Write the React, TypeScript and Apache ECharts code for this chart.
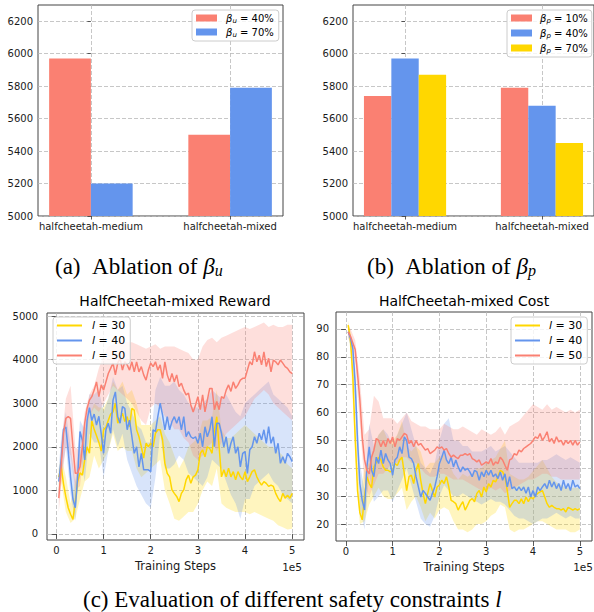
import React, { useEffect, useRef } from 'react';
import * as echarts from 'echarts';

// ---------------- data ----------------
const barCategories = ['halfcheetah-medium', 'halfcheetah-mixed'];
const betaU40 = [5970, 5500];
const betaU70 = [5200, 5790];
const betaP10 = [5740, 5790];
const betaP40 = [5970, 5680];
const betaP70 = [5870, 5450];
const barTicks = [5000, 5200, 5400, 5600, 5800, 6000, 6200];
const rewardTicks = [0, 1000, 2000, 3000, 4000, 5000];
const costTicks = [20, 30, 40, 50, 60, 70, 80, 90];
const stepTicks = [0, 1, 2, 3, 4, 5];

// training steps (x 1e5)
const meanSteps = Array.from({ length: 100 }, (_, i) => +((i + 1) * 0.05).toFixed(2));
const bandSteps = [0.05, ...Array.from({ length: 50 }, (_, i) => +((i + 1) * 0.1).toFixed(1))];

// Reward means
const reward30 = [
  1300, 1550, 1150, 850, 600, 450, 330, 750, 1200, 1400,
  1350, 1700, 2000, 1850, 2600, 2400, 2250, 2100, 1900, 2390,
  2450, 2610, 2750, 2800, 3000, 2540, 2650, 2770, 2580, 2690,
  2460, 2880, 2840, 2390, 2230, 2000, 1740, 2080, 2000, 2080,
  2000, 2310, 2390, 2390, 2160, 1620, 1390, 1310, 1010, 930,
  860, 740, 930, 1010, 1240, 1350, 1160, 1310, 1350, 1470,
  1850, 1930, 1770, 2000, 1960, 1850, 2390, 2690, 2000, 1310,
  1470, 1310, 1510, 1310, 1430, 1240, 1430, 1310, 1240, 1430,
  1200, 1310, 1430, 1470, 1310, 1200, 1120, 1200, 1160, 1090,
  1120, 1090, 930, 820, 740, 930, 820, 890, 820, 930,
];
const reward40 = [
  1200, 1700, 2400, 2450, 1900, 1300, 800, 600, 1300, 2350,
  2150, 1700, 2600, 2900, 2600, 2750, 2500, 2700, 2300, 1850,
  2390, 2540, 2310, 3070, 3260, 2690, 2540, 2920, 2880, 2390,
  2610, 2230, 1850, 2000, 1540, 1850, 1470, 1470, 1470, 1430,
  2390, 2350, 2690, 3000, 2730, 2390, 2690, 2390, 2580, 2690,
  2540, 2690, 2390, 2690, 2230, 2350, 2230, 2190, 2230, 2080,
  2310, 2000, 2460, 2230, 2390, 2690, 2000, 2540, 2540, 2310,
  2000, 2230, 1850, 2080, 2230, 1850, 2000, 1540, 1850, 1890,
  1390, 1930, 2000, 2230, 2080, 2310, 2160, 2390, 2080, 2460,
  2080, 2230, 1850, 2080, 1620, 1770, 1620, 1850, 1770, 1660,
];
const reward50 = [
  820, 1540, 2300, 2650, 2690, 2650, 2000, 1390, 1400, 1540,
  2000, 2540, 2880, 3070, 3150, 3300, 3490, 3150, 3420, 3300,
  3490, 3680, 3800, 3920, 3650, 3920, 4030, 3760, 3950, 3880,
  3760, 3950, 3720, 3950, 3720, 3840, 3650, 3530, 3760, 3920,
  3840, 3950, 3760, 3880, 3570, 3950, 3650, 3490, 3680, 3490,
  3650, 3380, 3460, 3300, 3190, 3230, 2960, 2800, 2960, 3150,
  2850, 3190, 2800, 3070, 3340, 3340, 2850, 3040, 2850, 3150,
  3110, 3300, 3420, 3270, 3490, 3340, 3420, 3530, 3570, 3570,
  3760, 3950, 3880, 4180, 3950, 4100, 3880, 4180, 3840, 4030,
  3720, 3990, 3950, 3880, 3990, 3920, 3840, 3800, 3720, 3680,
];
// Reward bands
const reward30Hi = [1500, 1800, 1300, 700, 1200, 1800, 2400, 2700, 3000, 2900, 2900, 3100, 3500, 3300, 3500, 3200, 3300, 3000, 2500, 2500, 2500, 2600, 2700, 2300, 2100, 1800, 1500, 1700, 2000, 2100, 2200, 2600, 2600, 2700, 3300, 2400, 2200, 2200, 2300, 2400, 2500, 2400, 2300, 2200, 2100, 2000, 2000, 1900, 1800, 1600, 1500];
const reward30Lo = [1000, 1200, 500, 250, 350, 800, 1200, 1300, 1800, 1500, 1700, 1900, 2300, 1900, 2000, 1900, 1900, 1500, 1300, 1400, 1500, 1600, 1700, 1000, 700, 350, 300, 400, 500, 500, 700, 1000, 1200, 1100, 1500, 700, 600, 550, 500, 500, 500, 450, 500, 450, 400, 350, 300, 200, 150, 100, 120];
const reward40Hi = [1500, 2200, 2800, 2000, 1200, 2600, 2400, 3200, 3200, 3300, 2800, 3100, 3600, 3300, 3400, 3000, 2800, 2500, 2400, 2100, 2100, 3300, 3600, 3400, 3400, 3500, 3300, 3200, 3000, 2900, 2900, 3000, 3100, 3300, 3200, 3100, 3200, 3000, 2800, 2700, 3000, 3100, 3200, 3300, 3400, 3500, 3200, 3100, 3000, 2900, 2700];
const reward40Lo = [900, 1300, 2000, 900, 300, 1800, 1200, 2300, 2100, 2100, 1300, 1900, 2400, 2000, 2300, 1700, 1400, 1100, 900, 700, 600, 1300, 2300, 1500, 1500, 1600, 1800, 1700, 1400, 1300, 1200, 1100, 1300, 1700, 1600, 1500, 1200, 900, 700, 350, 800, 800, 1100, 1200, 1300, 1400, 1200, 1100, 900, 800, 700];
const reward50Hi = [1000, 2000, 3100, 3400, 2000, 1900, 2800, 3200, 3400, 3800, 4100, 4300, 4350, 4400, 4400, 4400, 4400, 4350, 4300, 4250, 4300, 4350, 4250, 4300, 4300, 4300, 4250, 4200, 4150, 4000, 4000, 4300, 4450, 4500, 4400, 4500, 4550, 4600, 4650, 4700, 4750, 4700, 4750, 4800, 4850, 4750, 4800, 4750, 4750, 4800, 4800];
const reward50Lo = [500, 1100, 2000, 1800, 1000, 1100, 2100, 2700, 2900, 2800, 3000, 3200, 3400, 3300, 3200, 3100, 3000, 2800, 2600, 2500, 2900, 3000, 2900, 2700, 2600, 2400, 2400, 2200, 2100, 1800, 1700, 1800, 2000, 2100, 1900, 2100, 2300, 2400, 2500, 2600, 2700, 2900, 3100, 3200, 3300, 3200, 3000, 2900, 2800, 2700, 2600];

// Cost means
const cost30 = [
  91.4, 86, 73, 51, 32, 24, 21.5, 30, 37, 34.6,
  33, 40.5, 42, 44, 43, 40.5, 39.3, 39.3, 38.7, 39.3,
  41.7, 41, 43, 44, 38, 32, 37, 37.5, 34.5, 39.3,
  41.7, 35.7, 31, 27.3, 31, 34.5, 32, 29.7, 33.3, 34,
  35.7, 34.5, 37, 33.3, 28.5, 28, 27.3, 25, 26.7, 28,
  25, 26.7, 28.5, 29.1, 28, 31, 32, 29.7, 33.3, 31.5,
  34.5, 33.3, 35.7, 35.1, 37, 39.3, 38.7, 37, 32, 26,
  27.3, 28.5, 28.5, 27.3, 29, 27.3, 29.7, 28, 29.7, 29,
  30.3, 31, 31.5, 32, 29.7, 27.3, 26, 26.7, 26, 25.5,
  25.5, 25, 25.5, 24.3, 26, 25.5, 25, 25.5, 25, 25.5,
];
const cost40 = [
  89, 86.8, 83, 70.5, 50, 34.5, 28.5, 25, 40.5, 47.7,
  39.3, 37, 44, 41.7, 46.5, 41.7, 45.3, 43, 41.7, 37.5,
  43, 44, 47.7, 45.3, 51.3, 50, 44, 43.5, 41.7, 37,
  33.3, 29.7, 32, 31, 29.7, 28.5, 31, 33.3, 37, 41.7,
  44, 46.5, 43, 41.7, 44, 40.5, 43, 40.5, 38.7, 40.5,
  39.3, 40, 38.7, 37, 39.3, 38.7, 35.7, 38.7, 37, 39.3,
  37.5, 39.3, 37, 38, 36.3, 38.7, 35.7, 38, 33.3, 37,
  32.7, 33.3, 32, 33.3, 32, 33.3, 31, 33.3, 29.7, 32,
  29.7, 33.3, 32, 33.3, 34.5, 32.7, 35.7, 33.3, 35.1, 32.7,
  34.5, 32, 35.7, 32.7, 34.5, 32, 35.7, 33.3, 34, 32.7,
];
const cost50 = [
  89, 87.4, 85, 82.6, 74, 64.5, 51.3, 43, 39.3, 38,
  44, 46.5, 50.7, 50, 47.7, 50, 47.7, 50.7, 48.9, 51.3,
  47.7, 50.7, 50, 51.3, 52.5, 52, 48.9, 50, 47.7, 50,
  48.3, 48.9, 47.7, 46.5, 47.1, 45.3, 45.9, 46.5, 47.7, 47.1,
  47.7, 46.5, 47.1, 45.3, 44, 44.7, 44, 43.5, 44.7, 44.7,
  45.3, 44.7, 45.3, 43.5, 43, 42.3, 43, 41.1, 41.7, 42.3,
  41.7, 43.5, 41.1, 42.3, 41.7, 44, 43, 41.1, 39.3, 43,
  43.5, 45.3, 44.7, 46.5, 45.9, 47.1, 47.7, 48.3, 48.9, 50,
  51.3, 50.7, 52.5, 50, 51.3, 53.1, 49.5, 50.7, 48.9, 51.3,
  49.5, 50, 48.3, 50, 48.9, 50, 48.3, 50, 48.3, 49.5,
];
// Cost bands
const cost30Hi = [93, 89, 56, 30, 40, 42, 48, 52, 54, 50, 50, 52, 57, 48, 46, 48, 46, 40, 42, 42, 44, 45, 42, 38, 36, 38, 37, 38, 40, 40, 42, 43, 44, 47, 50, 38, 37, 36, 36, 37, 39, 41, 43, 40, 37, 35, 34, 33, 33, 33, 33];
const cost30Lo = [89, 82, 44, 20, 21, 27, 30, 33, 30, 29, 29, 31, 33, 25, 28, 30, 26, 21, 24, 22, 25, 26, 25, 21, 18, 18, 17, 18, 20, 20, 21, 23, 24, 27, 26, 18, 17, 18, 18, 19, 20, 21, 21, 20, 19, 18, 18, 18, 17, 17, 18];
const cost40Hi = [90, 88, 76, 42, 32, 56, 48, 52, 54, 52, 48, 52, 56, 60, 54, 48, 42, 40, 38, 42, 50, 56, 58, 50, 50, 48, 48, 46, 46, 46, 47, 48, 46, 47, 48, 46, 44, 42, 42, 42, 42, 42, 43, 43, 44, 45, 44, 43, 44, 43, 42];
const cost40Lo = [87, 84, 62, 26, 18, 38, 28, 30, 32, 32, 28, 32, 36, 40, 34, 28, 22, 20, 19, 23, 30, 34, 32, 30, 30, 31, 30, 29, 28, 27, 28, 29, 28, 28, 27, 25, 23, 22, 22, 21, 20, 21, 22, 22, 23, 24, 23, 22, 23, 22, 22];
const cost50Hi = [91, 90, 86, 72, 52, 54, 66, 64, 58, 58, 58, 56, 58, 60, 57, 56, 55, 55, 54, 54, 54, 56, 55, 54, 54, 55, 54, 53, 52, 54, 53, 52, 53, 55, 52, 55, 56, 57, 59, 61, 63, 62, 61, 63, 61, 62, 61, 60, 61, 60, 61];
const cost50Lo = [87, 85, 78, 56, 34, 30, 34, 38, 38, 40, 42, 42, 44, 44, 42, 42, 40, 38, 37, 37, 38, 38, 37, 36, 36, 36, 35, 34, 33, 32, 32, 33, 32, 33, 31, 32, 33, 34, 35, 36, 36, 37, 38, 38, 37, 37, 36, 36, 36, 36, 36];

// ---------------- style ----------------
const SALMON = '#FA8072';
const BLUE = '#6495ED';
const GOLD = '#FFD700';
const FONT = 'DejaVu Sans';
const SERIF = 'Liberation Serif';
const GRID_LINE = { color: '#b9b9b9', type: [4, 2] as number[], width: 0.8 };

function barSeries(name: string, values: number[], offset: number, width: number, color: string, idx: number, base: number) {
  return {
    type: 'custom',
    name,
    xAxisIndex: idx,
    yAxisIndex: idx,
    itemStyle: { color },
    data: values.map((v, i) => [i + offset, v]),
    renderItem: (_p: any, api: any) => {
      const x = api.value(0);
      const y = api.value(1);
      const tl = api.coord([x - width / 2, y]);
      const br = api.coord([x + width / 2, base]);
      return {
        type: 'rect',
        shape: { x: tl[0], y: tl[1], width: br[0] - tl[0], height: br[1] - tl[1] },
        style: { fill: color },
      };
    },
  };
}

function bandSeries(name: string, lo: number[], hi: number[], fill: string, idx: number) {
  return {
    type: 'custom',
    name,
    silent: true,
    xAxisIndex: idx,
    yAxisIndex: idx,
    data: [[bandSteps[0], lo[0]]],
    renderItem: (_p: any, api: any) => {
      const pts: number[][] = [];
      for (let i = 0; i < bandSteps.length; i++) pts.push(api.coord([bandSteps[i], hi[i]]));
      for (let i = bandSteps.length - 1; i >= 0; i--) pts.push(api.coord([bandSteps[i], lo[i]]));
      return { type: 'polygon', shape: { points: pts }, style: { fill } };
    },
  };
}

function lineSeries(name: string, values: number[], color: string, idx: number) {
  return {
    type: 'line',
    name,
    xAxisIndex: idx,
    yAxisIndex: idx,
    data: meanSteps.map((x, i) => [x, values[i]]),
    symbol: 'none',
    showSymbol: false,
    lineStyle: { color, width: 1.5 },
    itemStyle: { color },
    z: 3,
  };
}

function axisCommon(gridIndex: number, min: number, max: number, ticks: number[], margin: number, tickLen: number, fmt: (v: number) => string) {
  return {
    type: 'value',
    gridIndex,
    min,
    max,
    axisLine: { show: false },
    axisTick: { show: true, length: tickLen, lineStyle: { color: '#333', width: 0.8 }, customValues: ticks },
    axisLabel: { customValues: ticks, color: '#1a1a1a', fontSize: 10, fontFamily: FONT, margin, formatter: fmt },
    splitLine: { show: true, lineStyle: GRID_LINE },
  };
}

const legendBase = {
  orient: 'vertical',
  selectedMode: false,
  icon: 'rect',
  borderColor: '#cccccc',
  borderWidth: 1,
  borderRadius: 3,
  backgroundColor: 'rgba(255,255,255,0.8)',
};

const betaRich = {
  b: { fontStyle: 'italic', fontFamily: FONT, fontSize: 10, color: '#000' },
  s: { fontStyle: 'italic', fontFamily: FONT, fontSize: 7, color: '#000', padding: [5, 0, 0, 0] },
  n: { fontFamily: FONT, fontSize: 10, color: '#000' },
};
const lRich = {
  i: { fontStyle: 'italic', fontFamily: FONT, fontSize: 11, color: '#000' },
  n: { fontFamily: FONT, fontSize: 11, color: '#000' },
};
const legendLabels: Record<string, string> = {
  bu40: '{b|β}{s|u}{n| = 40%}',
  bu70: '{b|β}{s|u}{n| = 70%}',
  bp10: '{b|β}{s|p}{n| = 10%}',
  bp40: '{b|β}{s|p}{n| = 40%}',
  bp70: '{b|β}{s|p}{n| = 70%}',
  l30: '{i|l}{n| = 30}',
  l40: '{i|l}{n| = 40}',
  l50: '{i|l}{n| = 50}',
};

export default function App() {
  const ref = useRef<HTMLDivElement>(null);
  useEffect(() => {
    if (!ref.current) return;
    const chart = echarts.init(ref.current, null, { renderer: 'svg' });
    const plain = (v: number) => String(v);
    const catFmt = (v: number) => barCategories[Math.round(v)] ?? '';
    const capRich = {
      t: { fontFamily: SERIF, fontSize: 23, color: '#000' },
      g: { fontFamily: SERIF, fontSize: 23, fontStyle: 'italic', color: '#000' },
      s: { fontFamily: SERIF, fontSize: 16, fontStyle: 'italic', color: '#000', padding: [9, 0, 0, 0] },
    };
    const option: any = {
      animation: false,
      backgroundColor: '#fff',
      grid: [
        { left: 38, top: 5, width: 245, height: 211, show: true, borderColor: '#444', borderWidth: 1, backgroundColor: 'transparent' },
        { left: 353, top: 5, width: 243, height: 211, show: true, borderColor: '#444', borderWidth: 1, backgroundColor: 'transparent' },
        { left: 47, top: 313, width: 257, height: 227, show: true, borderColor: '#444', borderWidth: 1, backgroundColor: 'transparent' },
        { left: 336, top: 312, width: 256, height: 229, show: true, borderColor: '#444', borderWidth: 1, backgroundColor: 'transparent' },
      ],
      xAxis: [
        axisCommon(0, -0.38, 1.38, [0, 1], 5, 3.5, catFmt),
        axisCommon(1, -0.38, 1.38, [0, 1], 5, 3.5, catFmt),
        {
          ...axisCommon(2, -0.2, 5.25, stepTicks, 5, 5, plain),
          name: 'Training Steps',
          nameLocation: 'middle',
          nameGap: 20,
          nameTextStyle: { fontFamily: FONT, fontSize: 11.5, color: '#1a1a1a' },
        },
        {
          ...axisCommon(3, -0.21, 5.26, stepTicks, 5, 5, plain),
          name: 'Training Steps',
          nameLocation: 'middle',
          nameGap: 20,
          nameTextStyle: { fontFamily: FONT, fontSize: 11.5, color: '#1a1a1a' },
        },
      ],
      yAxis: [
        axisCommon(0, 5000, 6300, barTicks, 5, 3.5, plain),
        axisCommon(1, 5000, 6300, barTicks, 5, 3.5, plain),
        axisCommon(2, -140, 5070, rewardTicks, 9, 5, plain),
        axisCommon(3, 13.9, 96.1, costTicks, 7, 5, plain),
      ],
      legend: [
        {
          ...legendBase, data: ['bu40', 'bu70'], left: 192, top: 10, itemWidth: 21, itemHeight: 7, itemGap: 3,
          padding: [3, 5, 3, 4], formatter: (n: string) => legendLabels[n],
          textStyle: { fontFamily: FONT, fontSize: 10, color: '#000', padding: [0, 0, 0, 4], rich: betaRich },
        },
        {
          ...legendBase, data: ['bp10', 'bp40', 'bp70'], left: 507, top: 10, itemWidth: 21, itemHeight: 7, itemGap: 4,
          padding: [3, 4, 3, 4], formatter: (n: string) => legendLabels[n],
          textStyle: { fontFamily: FONT, fontSize: 10, color: '#000', padding: [0, 0, 0, 3], rich: betaRich },
        },
        {
          ...legendBase, data: ['l30', 'l40', 'l50'], left: 53, top: 317, itemWidth: 25, itemHeight: 2, itemGap: 4,
          padding: [3, 5, 3, 4], formatter: (n: string) => legendLabels[n],
          textStyle: { fontFamily: FONT, fontSize: 11, color: '#000', padding: [0, 0, 0, 5], rich: lRich },
        },
        {
          ...legendBase, data: ['l30', 'l40', 'l50'], left: 511, top: 317, itemWidth: 25, itemHeight: 2, itemGap: 4,
          padding: [3, 5, 3, 4], formatter: (n: string) => legendLabels[n],
          textStyle: { fontFamily: FONT, fontSize: 11, color: '#000', padding: [0, 0, 0, 4], rich: lRich },
        },
      ],
      series: [
        barSeries('bu40', betaU40, -0.15, 0.3, SALMON, 0, 5000),
        barSeries('bu70', betaU70, 0.15, 0.3, BLUE, 0, 5000),
        barSeries('bp10', betaP10, -0.2, 0.2, SALMON, 1, 5000),
        barSeries('bp40', betaP40, 0, 0.2, BLUE, 1, 5000),
        barSeries('bp70', betaP70, 0.2, 0.2, GOLD, 1, 5000),

        bandSeries('reward30band', reward30Lo, reward30Hi, 'rgba(255,215,0,0.25)', 2),
        lineSeries('l30', reward30, GOLD, 2),
        bandSeries('reward40band', reward40Lo, reward40Hi, 'rgba(100,149,237,0.25)', 2),
        lineSeries('l40', reward40, BLUE, 2),
        bandSeries('reward50band', reward50Lo, reward50Hi, 'rgba(250,128,114,0.25)', 2),
        lineSeries('l50', reward50, SALMON, 2),

        bandSeries('cost30band', cost30Lo, cost30Hi, 'rgba(255,215,0,0.25)', 3),
        lineSeries('l30', cost30, GOLD, 3),
        bandSeries('cost40band', cost40Lo, cost40Hi, 'rgba(100,149,237,0.25)', 3),
        lineSeries('l40', cost40, BLUE, 3),
        bandSeries('cost50band', cost50Lo, cost50Hi, 'rgba(250,128,114,0.25)', 3),
        lineSeries('l50', cost50, SALMON, 3),
      ],
      graphic: [
        { type: 'text', style: { text: 'HalfCheetah-mixed Reward', x: 175, y: 301, align: 'center', verticalAlign: 'middle', fontFamily: FONT, fontSize: 14, fill: '#000' } },
        { type: 'text', style: { text: 'HalfCheetah-mixed Cost', x: 464, y: 301, align: 'center', verticalAlign: 'middle', fontFamily: FONT, fontSize: 14, fill: '#000' } },
        { type: 'text', style: { text: '1e5', x: 302, y: 567, align: 'right', verticalAlign: 'middle', fontFamily: FONT, fontSize: 10.5, fill: '#1a1a1a' } },
        { type: 'text', style: { text: '1e5', x: 593, y: 567, align: 'right', verticalAlign: 'middle', fontFamily: FONT, fontSize: 10.5, fill: '#1a1a1a' } },
        { type: 'text', style: { text: '{t|(a)\u2002Ablation of }{g|β}{s|u}', x: 55, y: 266, align: 'left', verticalAlign: 'middle', rich: capRich } },
        { type: 'text', style: { text: '{t|(b)\u2002Ablation of }{g|β}{s|p}', x: 367, y: 266, align: 'left', verticalAlign: 'middle', rich: capRich } },
        { type: 'text', style: { text: '{t|(c) Evaluation of different safety constraints }{g|l}', x: 83, y: 599, align: 'left', verticalAlign: 'middle', rich: capRich } },
      ],
    };
    chart.setOption(option);
    return () => chart.dispose();
  }, []);
  return <div ref={ref} style={{ position: 'absolute', left: 0, top: 0, width: 594, height: 612 }} />;
}
